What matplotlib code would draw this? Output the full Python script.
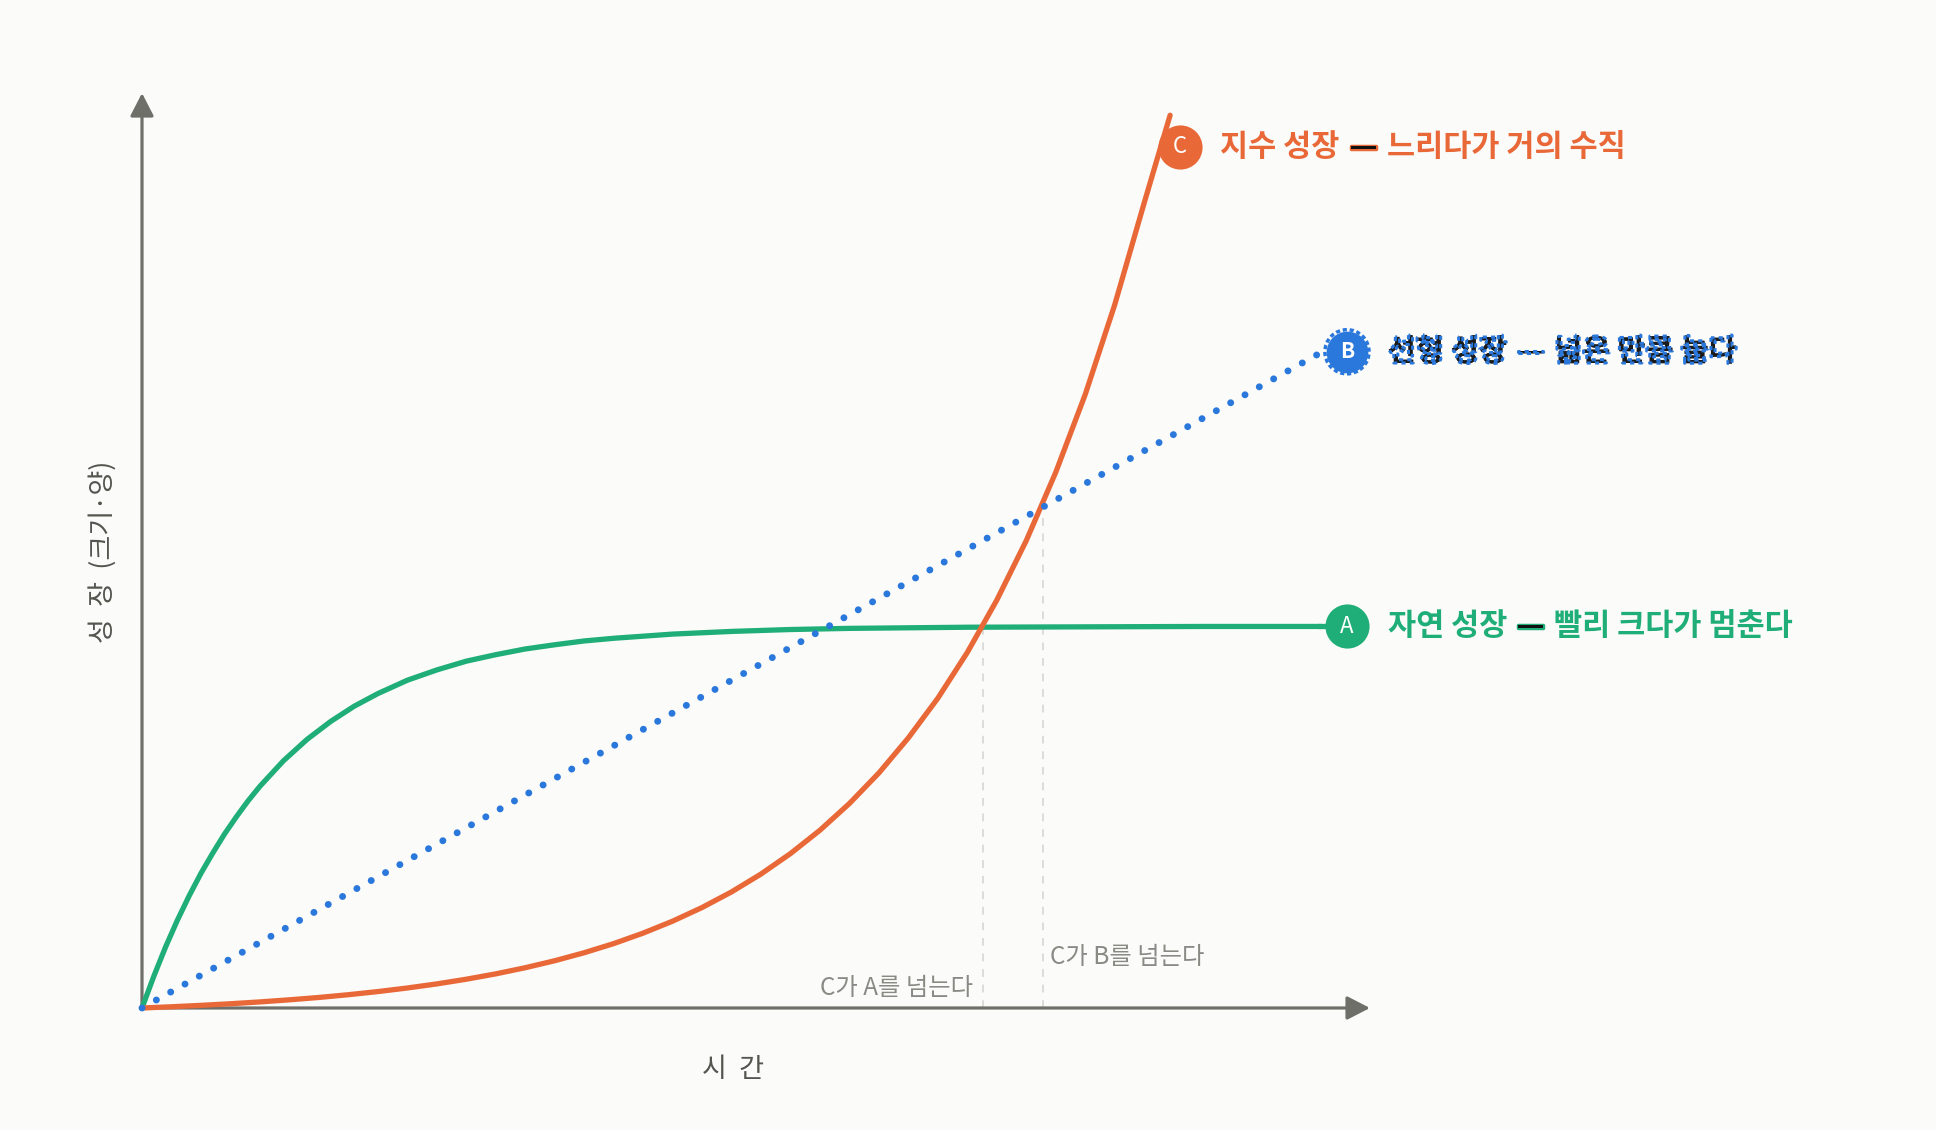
import matplotlib
matplotlib.use("Agg")
import matplotlib.pyplot as plt
import matplotlib.patheffects as pe

plt.rcParams['font.family'] = ['Noto Sans CJK KR', 'DejaVu Sans']

# ---------------- data ----------------
time_natural = [0, 0.1, 0.2, 0.3, 0.4, 0.5, 0.6, 0.7, 0.8, 0.9, 1.0, 1.2, 1.4, 1.6, 1.8,
                2.0, 2.25, 2.5, 2.75, 3.0, 3.25, 3.5, 3.75, 4.0, 4.5, 5.0, 5.5, 6.0,
                7.0, 8.0, 9.0, 10.0]
natural_growth = [0, 8.3, 16.0, 23.0, 29.4, 35.3, 40.6, 45.6, 50.1, 54.3, 58.1, 64.8,
                  70.4, 75.1, 79.1, 82.4, 85.9, 88.6, 90.9, 92.6, 94.1, 95.2, 96.2,
                  96.9, 98.0, 98.7, 99.2, 99.5, 99.8, 99.9, 100.0, 100.0]

time_linear = [0, 10.0]
linear_growth = [0, 171.8]

time_exp = [0, 0.25, 0.5, 0.75, 1.0, 1.25, 1.5, 1.75, 2.0, 2.25, 2.5, 2.75, 3.0, 3.25,
            3.5, 3.75, 4.0, 4.25, 4.5, 4.75, 5.0, 5.25, 5.5, 5.75, 6.0, 6.25, 6.5,
            6.75, 7.0, 7.25, 7.5, 7.75, 8.0, 8.25, 8.5, 8.72]
exp_growth = [0, 0.32, 0.69, 1.11, 1.59, 2.14, 2.76, 3.48, 4.30, 5.24, 6.31, 7.54, 8.94,
              10.55, 12.38, 14.48, 16.87, 19.62, 22.75, 26.33, 30.42, 35.11, 40.47,
              46.59, 53.6, 61.6, 70.8, 81.2, 93.2, 106.9, 122.5, 140.4, 160.8, 184.3,
              211.0, 234.0]

cross_times = [7.13, 7.64]
cross_values = [100.0, 131.4]
cross_labels = ["C가 A를 넘는다", "C가 B를 넘는다"]

series_letters = ["A", "B", "C"]
series_labels = ["자연 성장", "선형 성장", "지수 성장"]
series_notes = ["빨리 크다가 멈춘다", "넓은 만큼 늘다", "느리다가 거의 수직"]
badge_pos = [(10.22, 100.0), (10.22, 172.0), (8.80, 225.7)]

x_label = "시  간"
y_label = "성  장  (크기·양)"

# ---------------- style ----------------
BG = "#FBFBF9"
GREEN = "#1FAE78"
BLUE = "#2B78DC"
ORANGE = "#E96838"
AXIS = "#6F6F6A"
colors = [GREEN, BLUE, ORANGE]

fig = plt.figure(figsize=(19.36, 11.30), dpi=100, facecolor=BG)
ax = fig.add_axes([0, 0, 1, 1])
ax.set_facecolor(BG)
ax.set_xlim(-1.2044, 15.216)
ax.set_ylim(-31.98, 264.2)
ax.axis('off')

# axes with arrows
arrow_kw = dict(arrowstyle='-|>,head_length=0.7,head_width=0.36', color=AXIS,
                lw=2.3, shrinkA=0, shrinkB=0, mutation_scale=20)
ax.annotate('', xy=(0, 239.8), xytext=(0, 0), arrowprops=arrow_kw, zorder=2)
ax.annotate('', xy=(10.415, 0), xytext=(0, 0), arrowprops=arrow_kw, zorder=2)

# guide lines at crossings
for t, v in zip(cross_times, cross_values):
    ax.plot([t, t], [0, v], color="#DCDCD8", lw=1.4, ls=(0, (4, 4)), zorder=1)
ax.text(cross_times[0] - 0.08, 5.2, cross_labels[0], ha='right', va='center',
        fontsize=17.5, color="#8A8A85")
ax.text(cross_times[1] + 0.06, 13.4, cross_labels[1], ha='left', va='center',
        fontsize=17.5, color="#8A8A85")

# curves
ax.plot(time_natural, natural_growth, color=GREEN, lw=3.8, solid_capstyle='round',
        solid_joinstyle='round', zorder=3)
ax.plot(time_exp, exp_growth, color=ORANGE, lw=3.8, solid_capstyle='round',
        solid_joinstyle='round', zorder=4)
ax.plot(time_linear, linear_growth, color=BLUE, lw=5.0, ls=(0, (0.01, 2.35)),
        dash_capstyle='round', zorder=5)

# connect green end to badge
ax.plot([time_natural[-1], badge_pos[0][0]], [natural_growth[-1], badge_pos[0][1]],
        color=GREEN, lw=3.8, zorder=3)

# badges and labels
for i, (letter, lab, note, (bx, by)) in enumerate(zip(series_letters, series_labels,
                                                       series_notes, badge_pos)):
    c = colors[i]
    if letter == "B":
        ax.scatter([bx], [by], s=900, color=c, zorder=6, linewidths=0)
        ax.scatter([bx], [by], s=1010, facecolor='none', edgecolor=c, linewidths=2.5,
                   linestyle=(0, (1.2, 0.8)), zorder=6)
        ax.text(bx, by, letter, ha='center', va='center', fontsize=15, color='white',
                fontweight='bold', zorder=7)
    else:
        ax.scatter([bx], [by], s=1010, color=c, zorder=6, linewidths=0)
        ax.text(bx, by, letter, ha='center', va='center', fontsize=16, color='white',
                zorder=7)

    tx = bx + 0.345
    if letter == "B":
        fill = "#1A1A1A"
        eff = [pe.Normal(),
               pe.Stroke(linewidth=2.2, foreground=c,
                         dashes={'dash_offset': 0, 'dash_list': [3, 3]})]
        dash_eff = eff
    else:
        fill = c
        eff = []
        dash_eff = [pe.withStroke(linewidth=2.5, foreground=c)]
    t1 = ax.text(tx, by, lab, ha='left', va='center', fontsize=22, fontweight='bold',
                 color=fill, path_effects=eff, zorder=7)
    t2 = ax.annotate("—", xy=(1, 0), xycoords=t1, xytext=(7, 0),
                     textcoords='offset points', ha='left', va='bottom', fontsize=22,
                     fontweight='bold', color="#111111", path_effects=dash_eff, zorder=7)
    ax.annotate(note, xy=(1, 0), xycoords=t2, xytext=(7, 0),
                textcoords='offset points', ha='left', va='bottom', fontsize=22,
                fontweight='bold', color=fill, path_effects=eff, zorder=7)

# axis labels
ax.text(5.01, -16.25, x_label, ha='center', va='center', fontsize=19.5, color="#555550")
ax.text(-0.33, 119.5, y_label, ha='center', va='center', fontsize=19.5, color="#555550",
        rotation=90)

fig.savefig("out.png", dpi=100, facecolor=BG)
